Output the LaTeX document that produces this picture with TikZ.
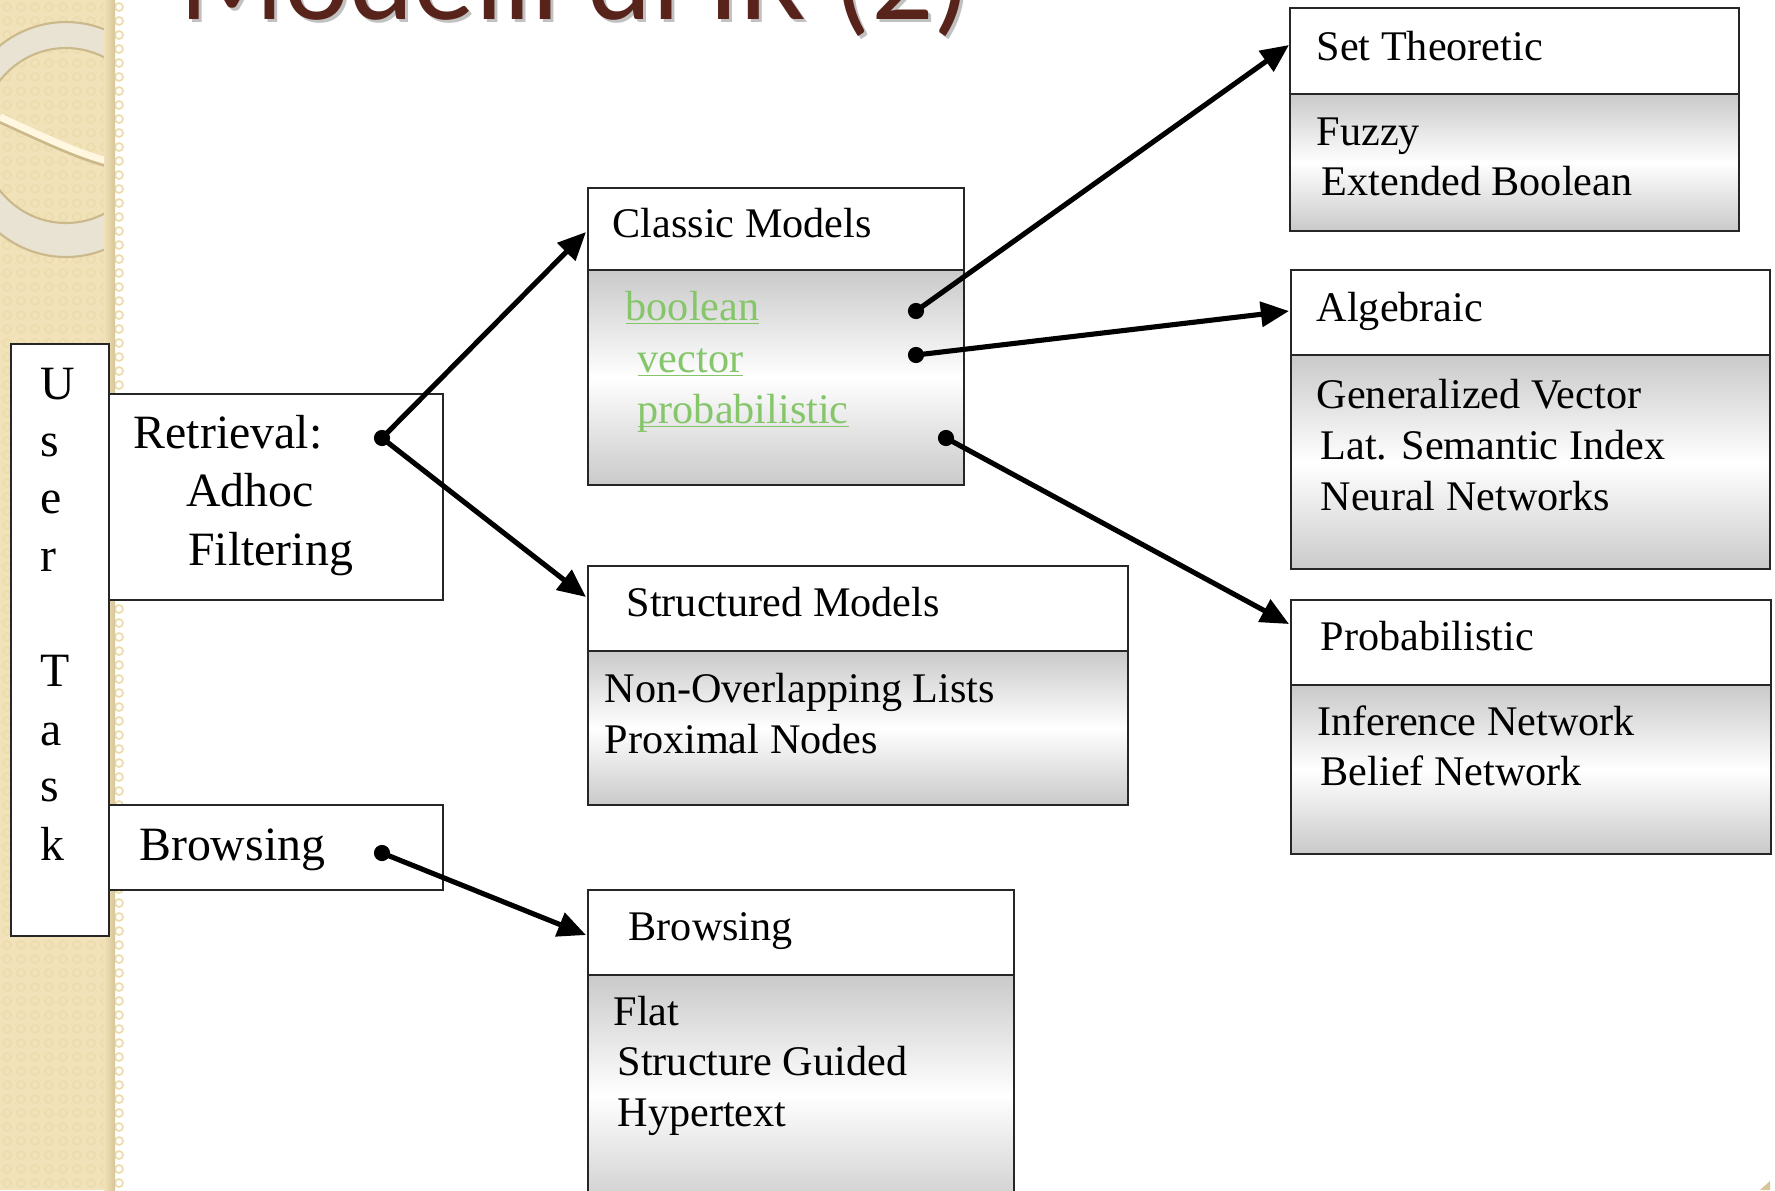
\documentclass[tikz,border=0pt]{standalone}
\usepackage{fontspec}
\setmainfont{Liberation Serif}
\newfontfamily\titlefont{Carlito}
\usetikzlibrary{arrows.meta}
\definecolor{stripcol}{HTML}{F1E2B9}
\definecolor{stripdark}{HTML}{D6C597}
\definecolor{stripdot}{HTML}{ECDCAE}
\definecolor{ringcol}{HTML}{E8E3D3}
\definecolor{ringedge}{HTML}{CBB98C}
\definecolor{ringlight}{HTML}{FFF7DF}
\definecolor{titlebrown}{HTML}{58231A}
\definecolor{linkgreen}{HTML}{86C66A}
\newcommand\myul[1]{\setbox0\hbox{#1}\rlap{\rule[-1.25pt]{\wd0}{0.5pt}}\box0}
\begin{document}
\begin{tikzpicture}[x=0.01cm,y=-0.01cm,
  hbox/.style={draw=black!85, line width=0.6pt, fill=white, rectangle, inner sep=0, anchor=north west},
  bbox/.style={draw=black!85, line width=0.6pt, rectangle, inner sep=0, anchor=north west, top color=gray!42, bottom color=gray!42, middle color=white},
  bt/.style={anchor=base west, inner sep=0, font=\fontsize{12}{14}\selectfont},
  lt/.style={anchor=base west, inner sep=0, font=\fontsize{13.6}{16}\selectfont},
  gt/.style={bt, text=linkgreen},
  conn/.style={line width=1.45pt, -{Triangle[length=8pt,width=7pt]}},
  dotn/.style={circle, fill=black, inner sep=0, minimum size=4.6pt}]
\useasboundingbox (0,0) rectangle (1775,1190);
\begin{scope}
\clip (0,0) rectangle (1775,1190);
\fill[white] (0,0) rectangle (1775,1190);
% left strip
\fill[stripcol] (0,0) rectangle (115,1190);
\foreach \i in {0,...,8} {\foreach \j in {0,...,85} {\draw[stripdot, line width=0.5pt] ({\i*14+7},{\j*14+7}) circle (4);}}
\begin{scope}
\clip (0,0) rectangle (110,1190);
\fill[ringcol, even odd rule] (66,139.5) ellipse [x radius=110, y radius=117.5] (66,135.5) ellipse [x radius=85, y radius=87.5];
\draw[ringedge, line width=0.6pt] (66,139.5) ellipse [x radius=110, y radius=117.5];
\draw[ringedge, line width=0.6pt] (66,135.5) ellipse [x radius=85, y radius=87.5];
\draw[ringedge, line width=2pt] (0,120) .. controls (40,138) and (80,158) .. (115,166);
\draw[ringlight, line width=2pt] (0,117) .. controls (40,135) and (80,155) .. (115,163);
\end{scope}
\shade[left color=stripcol, right color=stripdark] (104,0) rectangle (115,1190);
% bottom right corner mark
\fill[stripdark] (1760,1190) -- (1770,1181) -- (1770,1190) -- cycle;
% title
\node[anchor=base east, inner sep=0, font=\titlefont\fontsize{35}{40}\selectfont, text=black!40, opacity=0.6] (titlesh) at (975,22) {Modelli di IR (2)};
\node[anchor=base east, inner sep=0, font=\titlefont\fontsize{35}{40}\selectfont, text=titlebrown] (title) at (972,19) {Modelli di IR (2)};
% left boxes
\node[hbox, minimum width=0.975cm, minimum height=5.92cm] (user) at (10,343) {};
\node[hbox, minimum width=3.345cm, minimum height=2.06cm] (retr) at (107.5,393) {};
\node[hbox, minimum width=3.345cm, minimum height=0.85cm] (brl) at (107.5,804) {};
\foreach \l/\yy [count=\k] in {U/399, s/456.5, e/513, r/571, T/686, a/745, s/801, k/860}
  \node[lt] (ut\k) at (40,\yy) {\l};
\node[lt] (rt1) at (133,448.6) {Retrieval:};
\node[lt] (rt2) at (185.6,506) {Adhoc};
\node[lt] (rt3) at (187.5,565) {Filtering};
\node[lt] (blt) at (138.5,860) {Browsing};
% classic models
\node[hbox, minimum width=3.76cm, minimum height=0.82cm] (cmh) at (587,187) {};
\node[bbox, minimum width=3.76cm, minimum height=2.15cm] (cmb) at (587,269) {};
\node[bt] (cmt) at (612,237) {Classic Models};
\node[gt] (cm1) at (625,320) {\myul{boolean}};
\node[gt] (cm2) at (637,372) {\myul{vector}};
\node[gt] (cm3) at (637,423) {\myul{probabilistic}};
% structured models
\node[hbox, minimum width=5.40cm, minimum height=0.85cm] (smh) at (587,565) {};
\node[bbox, minimum width=5.40cm, minimum height=1.54cm] (smb) at (587,650) {};
\node[bt] (smt) at (626,616) {Structured Models};
\node[bt] (sm1) at (604,702) {Non-Overlapping Lists};
\node[bt] (sm2) at (604,753) {Proximal Nodes};
% browsing right
\node[hbox, minimum width=4.26cm, minimum height=0.85cm] (brh) at (587,889) {};
\node[bbox, minimum width=4.26cm, minimum height=2.40cm] (brb) at (587,974) {};
\node[bt] (brt) at (628,940) {Browsing};
\node[bt] (br1) at (613,1025) {Flat};
\node[bt] (br2) at (617,1075) {Structure Guided};
\node[bt] (br3) at (617,1126.7) {Hypertext};
% set theoretic
\node[hbox, minimum width=4.49cm, minimum height=0.86cm] (sth) at (1289,7) {};
\node[bbox, minimum width=4.49cm, minimum height=1.37cm] (stb) at (1289,93) {};
\node[bt] (stt) at (1316,60) {Set Theoretic};
\node[bt] (st1) at (1316,145) {Fuzzy};
\node[bt] (st2) at (1321,195) {Extended Boolean};
% algebraic
\node[hbox, minimum width=4.79cm, minimum height=0.85cm] (alh) at (1290,269) {};
\node[bbox, minimum width=4.79cm, minimum height=2.14cm] (alb) at (1290,354) {};
\node[bt] (alt) at (1316,321) {Algebraic};
\node[bt] (al1) at (1316,408.6) {Generalized Vector};
\node[bt] (al2) at (1320,459.6) {Lat. Semantic Index};
\node[bt] (al3) at (1320,510.5) {Neural Networks};
% probabilistic
\node[hbox, minimum width=4.80cm, minimum height=0.85cm] (prh) at (1290,599) {};
\node[bbox, minimum width=4.80cm, minimum height=1.69cm] (prb) at (1290,684) {};
\node[bt] (prt) at (1320,650) {Probabilistic};
\node[bt] (pr1) at (1316.5,735) {Inference Network};
\node[bt] (pr2) at (1320,785) {Belief Network};
% dots and arrow targets
\node[dotn] (rdot) at (382,438) {};
\node[dotn] (bdot) at (382,853) {};
\node[dotn] (d1) at (916,311) {};
\node[dotn] (d2) at (916,355) {};
\node[dotn] (d3) at (946,438) {};
\coordinate (cmin) at (586,232);
\coordinate (smin) at (586,597);
\coordinate (brin) at (586,935);
\coordinate (stin) at (1289,45);
\coordinate (alin) at (1289,311);
\coordinate (prin) at (1289,624);
\draw[conn] (rdot.center) -- (cmin);
\draw[conn] (rdot.center) -- (smin);
\draw[conn] (bdot.center) -- (brin);
\draw[conn] (d1.center) -- (stin);
\draw[conn] (d2.center) -- (alin);
\draw[conn] (d3.center) -- (prin);
\end{scope}
\end{tikzpicture}
\end{document}
